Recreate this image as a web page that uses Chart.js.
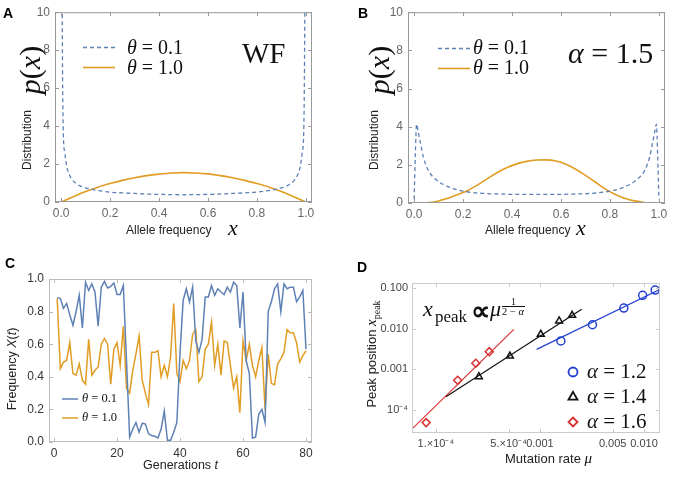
<!DOCTYPE html>
<html>
<head>
<meta charset="utf-8">
<script src="https://cdn.jsdelivr.net/npm/chart.js@4.4.1/dist/chart.umd.min.js"></script>
<style>
  body { margin: 0; background: #fff; width: 680px; height: 479px; position: relative; overflow: hidden;
         font-family: "Liberation Sans", Arial, sans-serif; }
  canvas { position: absolute; }
  .t { position: absolute; white-space: nowrap; line-height: 1; color: #222; }
  .m { font-family: "Liberation Serif", "Times New Roman", serif; color: #111; }
  .i { font-style: italic; }
  .rot { transform: translate(-50%, -50%) rotate(-90deg); }
  .lab { font-weight: bold; font-size: 14px; color: #000; }
</style>
</head>
<body>
<canvas id="cA" width="340" height="240" style="left:0;top:0"></canvas>
<canvas id="cB" width="340" height="240" style="left:340px;top:0"></canvas>
<canvas id="cC" width="340" height="239" style="left:0;top:240px"></canvas>
<canvas id="cD" width="340" height="239" style="left:340px;top:240px"></canvas>

<!-- panel A text -->
<div class="t lab" style="left:3px;top:6px">A</div>
<div class="t m" style="left:127px;top:37px;font-size:20px"><span class="i">θ</span> = 0.1</div>
<div class="t m" style="left:127px;top:57px;font-size:20px"><span class="i">θ</span> = 1.0</div>
<div class="t m" style="left:242px;top:39px;font-size:29px">WF</div>
<div class="t rot" style="left:27px;top:140px;font-size:12px">Distribution</div>
<div class="t m rot" style="left:30px;top:70px;font-size:30px"><span class="i">p</span>(<span class="i">x</span>)</div>
<div class="t" style="left:126px;top:224px;font-size:12px">Allele frequency</div>
<div class="t m i" style="left:228px;top:217px;font-size:22px">x</div>

<!-- panel B text -->
<div class="t lab" style="left:358px;top:6px">B</div>
<div class="t m" style="left:473px;top:37px;font-size:20px"><span class="i">θ</span> = 0.1</div>
<div class="t m" style="left:473px;top:57px;font-size:20px"><span class="i">θ</span> = 1.0</div>
<div class="t m" style="left:568px;top:38px;font-size:30px"><span class="i">α</span> = 1.5</div>
<div class="t rot" style="left:374px;top:140px;font-size:12px">Distribution</div>
<div class="t m rot" style="left:379px;top:70px;font-size:30px"><span class="i">p</span>(<span class="i">x</span>)</div>
<div class="t" style="left:485px;top:224px;font-size:12px">Allele frequency</div>
<div class="t m i" style="left:576px;top:217px;font-size:22px">x</div>

<!-- panel C text -->
<div class="t lab" style="left:5px;top:256px">C</div>
<div class="t rot" style="left:12px;top:369px;font-size:12.5px">Frequency <span class="i">X</span>(<span class="i">t</span>)</div>
<div class="t" style="left:143px;top:459px;font-size:12.5px">Generations <span class="i">t</span></div>
<div class="t m" style="left:82px;top:392px;font-size:12.5px"><span class="i">θ</span> = 0.1</div>
<div class="t m" style="left:82px;top:411px;font-size:12.5px"><span class="i">θ</span> = 1.0</div>

<!-- panel D text -->
<div class="t lab" style="left:357px;top:260px">D</div>
<div class="t rot" style="left:373px;top:354px;font-size:13px">Peak position <span class="m i" style="font-size:15px">x</span><sub class="m" style="font-size:10px">peak</sub></div>
<div class="t" style="left:505px;top:451px;font-size:13px">Mutation rate <span class="m i" style="font-size:15px">μ</span></div>
<div class="t m i" style="left:423px;top:298px;font-size:22px">x</div>
<div class="t m" style="left:435px;top:308px;font-size:17px">peak</div>
<div class="t m" style="left:471px;top:298px;font-size:27px;font-weight:bold">∝</div>
<div class="t m i" style="left:490px;top:298px;font-size:22px">μ</div>
<div class="t m" style="left:511px;top:297px;font-size:10px">1</div>
<div class="t" style="left:502px;top:306px;width:23px;height:1px;background:#111"></div>
<div class="t m" style="left:502px;top:307px;font-size:10.5px">2 − <span class="i">α</span></div>
<div class="t m" style="left:587px;top:361px;font-size:21px"><span class="i">α</span> = 1.2</div>
<div class="t m" style="left:587px;top:386px;font-size:21px"><span class="i">α</span> = 1.4</div>
<div class="t m" style="left:587px;top:411px;font-size:21px"><span class="i">α</span> = 1.6</div>

<script>
// ---- data ----
// A: Wright-Fisher stationary distributions
const wfLowX = [0.004, 0.006, 0.009, 0.015, 0.023, 0.033, 0.044, 0.06, 0.078, 0.1, 0.13, 0.16, 0.2, 0.25, 0.3, 0.35, 0.4, 0.45, 0.5,
  0.55, 0.6, 0.65, 0.7, 0.75, 0.8, 0.84, 0.87, 0.9, 0.922, 0.94, 0.956, 0.967, 0.977, 0.985, 0.991, 0.994, 0.996];
const wfLowY = [11, 6.5, 3.6, 2.6, 1.87, 1.45, 1.19, 0.98, 0.85, 0.74, 0.65, 0.59, 0.52, 0.48, 0.45, 0.42, 0.4, 0.39, 0.38,
  0.39, 0.4, 0.42, 0.45, 0.48, 0.52, 0.59, 0.65, 0.74, 0.85, 0.98, 1.19, 1.45, 1.87, 2.6, 3.6, 6.5, 11];
const wfHighX = [0, 0.05, 0.1, 0.15, 0.2, 0.25, 0.3, 0.35, 0.4, 0.45, 0.5, 0.55, 0.6, 0.65, 0.7, 0.75, 0.8, 0.85, 0.9, 0.95, 1];
const wfHighY = [0, 0.28, 0.55, 0.78, 0.97, 1.14, 1.28, 1.39, 1.47, 1.53, 1.55, 1.53, 1.48, 1.39, 1.28, 1.14, 0.97, 0.78, 0.55, 0.28, 0];

// B: alpha = 1.5
const bLowX = [0, 0.005, 0.01, 0.016, 0.024, 0.038, 0.058, 0.093, 0.147, 0.215, 0.283, 0.35, 0.42, 0.5,
  0.58, 0.65, 0.717, 0.785, 0.853, 0.907, 0.942, 0.962, 0.976, 0.984, 0.99, 0.995, 1];
const bLowY = [0.2, 2.5, 4.13, 3.8, 3.26, 2.4, 1.71, 1.19, 0.81, 0.59, 0.5, 0.47, 0.45, 0.45,
  0.45, 0.47, 0.5, 0.59, 0.81, 1.19, 1.71, 2.4, 3.26, 3.8, 4.13, 2.5, 0.2];
const bHighX = [0, 0.05, 0.08, 0.1, 0.12, 0.15, 0.18, 0.22, 0.26, 0.3, 0.34, 0.38, 0.42, 0.46, 0.5, 0.54, 0.58,
  0.62, 0.66, 0.7, 0.74, 0.78, 0.82, 0.86, 0.9, 0.94, 0.98, 1];
const bHighY = [0, 0.01, 0.05, 0.1, 0.18, 0.3, 0.45, 0.66, 0.95, 1.28, 1.6, 1.86, 2.05, 2.18, 2.25, 2.26, 2.2,
  2.03, 1.77, 1.45, 1.1, 0.74, 0.46, 0.25, 0.11, 0.03, 0, 0];

// C: trajectories over generations 1..80
const trajLow = [0.885, 0.88, 0.82, 0.85, 0.78, 0.716, 0.8, 0.9, 0.7, 0.98, 0.93, 0.97, 0.92, 0.71, 0.95, 0.985, 0.945, 0.955, 0.975, 0.905,
  0.905, 0.96, 0.5, 0.03, 0.08, 0.12, 0.06, 0.115, 0.11, 0.05, 0.04, 0.035, 0.025, 0.08, 0.19, 0.01, 0.01, 0.06, 0.12, 0.55,
  0.87, 0.94, 0.86, 0.95, 0.62, 0.55, 0.63, 0.89, 0.89, 0.96, 0.9, 0.94, 0.92, 0.905, 0.95, 0.92, 0.98, 0.96, 0.7, 0.92,
  0.5, 0.42, 0.025, 0.03, 0.17, 0.2, 0.12, 0.8, 0.86, 0.94, 0.97, 0.8, 0.97, 0.94, 0.95, 0.95, 0.86, 0.89, 0.93, 0.57];
const trajHigh = [0.88, 0.45, 0.49, 0.5, 0.61, 0.42, 0.41, 0.48, 0.38, 0.355, 0.63, 0.41, 0.44, 0.46, 0.6, 0.635, 0.6, 0.355, 0.57, 0.61,
  0.47, 0.71, 0.33, 0.3, 0.44, 0.54, 0.65, 0.38, 0.3, 0.23, 0.55, 0.55, 0.56, 0.4, 0.47, 0.4, 0.52, 0.85, 0.42, 0.37,
  0.5, 0.45, 0.5, 0.66, 0.69, 0.37, 0.4, 0.57, 0.6, 0.735, 0.47, 0.6, 0.41, 0.62, 0.61, 0.47, 0.33, 0.4, 0.18, 0.62,
  0.5, 0.6, 0.47, 0.4, 0.5, 0.58, 0.2, 0.54, 0.36, 0.35, 0.48, 0.51, 0.55, 0.69, 0.67, 0.67, 0.61, 0.49, 0.53, 0.56];

// D: peak position vs mutation rate
const muA12 = [0.00159, 0.0032, 0.0064, 0.0097, 0.0128];
const peakA12 = [0.00498, 0.0125, 0.0322, 0.066, 0.089];
const muA14 = [0.000259, 0.000515, 0.00102, 0.00153, 0.00204];
const peakA14 = [0.00066, 0.00213, 0.0073, 0.0155, 0.0213];
const muA16 = [0.0000807, 0.000162, 0.000242, 0.000326];
const peakA16 = [0.000049, 0.000537, 0.00141, 0.00272];
const fitA12 = { mu: [0.00093, 0.0143], peak: [0.0031, 0.093] };
const fitA14 = { mu: [0.000125, 0.00252], peak: [0.000212, 0.0299] };
const fitA16 = { mu: [0.0000575, 0.000562], peak: [0.000032, 0.0096] };

// ticks
const freqTicks = [0, 0.2, 0.4, 0.6, 0.8, 1];
const freqLabels = ["0.0", "0.2", "0.4", "0.6", "0.8", "1.0"];
const densTicks = [0, 2, 4, 6, 8, 10];
const densLabels = ["0", "2", "4", "6", "8", "10"];
const genTicks = [0, 20, 40, 60, 80];
const genLabels = ["0", "20", "40", "60", "80"];
const muTicks = [0.0001, 0.0005, 0.001, 0.005, 0.01];
const muLabels = ["1.×10⁻⁴", "5.×10⁻⁴", "0.001", "0.005", "0.010"];
const peakTicks = [0.0001, 0.001, 0.01, 0.1];
const peakLabels = ["10⁻⁴", "0.001", "0.010", "0.100"];

const BLUE = "#5E81B5";
const ORANGE = "#E19C24";
const SANS = '"Liberation Sans", Arial, sans-serif';

const pts = (xs, ys) => xs.map((x, i) => ({ x: x, y: ys[i] }));

function drawMarker(ctx, style, x, y, r) {
  ctx.beginPath();
  if (style === "circle") {
    ctx.arc(x, y, r, 0, Math.PI * 2);
  } else if (style === "triangle") {
    ctx.moveTo(x, y - r * 1.15);
    ctx.lineTo(x + r, y + r * 0.6);
    ctx.lineTo(x - r, y + r * 0.6);
    ctx.closePath();
  } else {
    ctx.moveTo(x, y - r);
    ctx.lineTo(x + r, y);
    ctx.lineTo(x, y + r);
    ctx.lineTo(x - r, y);
    ctx.closePath();
  }
  ctx.stroke();
}

// frame with inward ticks + small in-plot legend
const framePlugin = {
  id: "frame",
  afterDatasetsDraw(chart, args, opts) {
    const { ctx, chartArea: a, scales } = chart;
    ctx.save();
    ctx.strokeStyle = opts.color;
    ctx.lineWidth = 1;
    ctx.strokeRect(a.left + 0.5, a.top + 0.5, a.right - a.left - 1, a.bottom - a.top - 1);
    ctx.beginPath();
    scales.x.ticks.forEach((t) => {
      const px = Math.round(scales.x.getPixelForValue(t.value)) + 0.5;
      ctx.moveTo(px, a.bottom); ctx.lineTo(px, a.bottom - 4);
      ctx.moveTo(px, a.top); ctx.lineTo(px, a.top + 4);
    });
    scales.y.ticks.forEach((t) => {
      const py = Math.round(scales.y.getPixelForValue(t.value)) + 0.5;
      ctx.moveTo(a.left, py); ctx.lineTo(a.left + 4, py);
      ctx.moveTo(a.right, py); ctx.lineTo(a.right - 4, py);
    });
    ctx.stroke();

    (opts.items || []).forEach((it) => {
      const ds = chart.data.datasets[it.ds];
      ctx.strokeStyle = ds.borderColor;
      ctx.lineWidth = ds.borderWidth || ds.pointBorderWidth;
      if (it.marker) {
        ctx.lineWidth = 1.8;
        drawMarker(ctx, ds.pointStyle, it.x, it.y, 4.5);
      } else {
        ctx.setLineDash(ds.borderDash || []);
        ctx.beginPath();
        ctx.moveTo(it.x1, it.y);
        ctx.lineTo(it.x2, it.y);
        ctx.stroke();
        ctx.setLineDash([]);
      }
    });
    ctx.restore();
  },
};

function axis(type, min, max, ticks, labels, color, size, pad) {
  return {
    type: type,
    min: min,
    max: max,
    grid: { display: false, drawTicks: false },
    border: { display: false },
    afterBuildTicks: (s) => { s.ticks = ticks.map((v) => ({ value: v })); },
    ticks: {
      autoSkip: false,
      maxRotation: 0,
      padding: pad,
      color: color,
      font: { family: SANS, size: size },
      callback: (v, i) => labels[i],
    },
  };
}

// box = chart area inside the canvas
function makeChart(id, box, datasets, xAxis, yAxis, frame) {
  const canvas = document.getElementById(id);
  xAxis.afterFit = (s) => { s.height = canvas.height - box.bottom; };
  yAxis.afterFit = (s) => { s.width = box.left; };
  return new Chart(canvas, {
    type: "scatter",
    data: { datasets: datasets },
    options: {
      responsive: false,
      animation: false,
      layout: { padding: { left: 0, top: box.top, right: canvas.width - box.right, bottom: 0 } },
      scales: { x: xAxis, y: yAxis },
      plugins: { legend: { display: false }, tooltip: { enabled: false }, frame: frame },
    },
    plugins: [framePlugin],
  });
}

function curve(data, color, dash, width) {
  return {
    data: data,
    showLine: true,
    borderColor: color,
    borderWidth: width,
    borderDash: dash,
    pointRadius: 0,
    cubicInterpolationMode: "monotone",
  };
}

// A
makeChart("cA", { left: 55, right: 312, top: 10, bottom: 202 },
  [curve(pts(wfLowX, wfLowY), BLUE, [4, 3], 1.3), curve(pts(wfHighX, wfHighY), ORANGE, [], 1.6)],
  axis("linear", -0.025, 1.025, freqTicks, freqLabels, "#666", 12, 4),
  axis("linear", 0, 10, densTicks, densLabels, "#666", 12, 5),
  { color: "#999", items: [{ ds: 0, x1: 83, x2: 115, y: 47.5 }, { ds: 1, x1: 83, x2: 115, y: 67.5 }] });

// B
makeChart("cB", { left: 68, right: 325, top: 10, bottom: 203 },
  [curve(pts(bLowX, bLowY), BLUE, [4, 3], 1.3), curve(pts(bHighX, bHighY), ORANGE, [], 1.6)],
  axis("linear", -0.025, 1.025, freqTicks, freqLabels, "#666", 12, 4),
  axis("linear", 0, 10, densTicks, densLabels, "#666", 12, 5),
  { color: "#999", items: [{ ds: 0, x1: 98, x2: 130, y: 48.5 }, { ds: 1, x1: 98, x2: 130, y: 68.5 }] });

// C
const gens = trajLow.map((v, i) => i + 1);
const traj = (vals, color) => ({
  data: pts(gens, vals), showLine: true, borderColor: color, borderWidth: 1.5, pointRadius: 0, tension: 0,
});
makeChart("cC", { left: 49, right: 312, top: 39, bottom: 202 },
  [traj(trajLow, BLUE), traj(trajHigh, ORANGE)],
  axis("linear", -1.6, 81.9, genTicks, genLabels, "#333", 12, 4),
  axis("linear", 0, 1, freqTicks, freqLabels, "#333", 12, 5),
  { color: "#bbb", items: [{ ds: 0, x1: 62, x2: 78, y: 159 }, { ds: 1, x1: 62, x2: 78, y: 178 }] });

// D
const fit = (f, color) => ({
  data: pts(f.mu, f.peak), showLine: true, borderColor: color, borderWidth: 1.2, pointRadius: 0,
});
const marks = (xs, ys, color, style) => ({
  data: pts(xs, ys), borderColor: color, pointStyle: style, pointRadius: 4,
  pointBorderWidth: 1.5, pointBorderColor: color, pointBackgroundColor: "rgba(0,0,0,0)",
});
makeChart("cD", { left: 72, right: 320, top: 43, bottom: 193 },
  [fit(fitA12, "#2340D0"), fit(fitA14, "#111"), fit(fitA16, "#D83030"),
   marks(muA12, peakA12, "#2340D0", "circle"), marks(muA14, peakA14, "#111", "triangle"),
   marks(muA16, peakA16, "#D83030", "rectRot")],
  axis("logarithmic", 0.000059, 0.01425, muTicks, muLabels, "#444", 11, 4),
  axis("logarithmic", 0.0000272, 0.133, peakTicks, peakLabels, "#444", 11, 4),
  { color: "#ccc", items: [{ ds: 3, marker: true, x: 233, y: 132 }, { ds: 4, marker: true, x: 233, y: 157 },
                           { ds: 5, marker: true, x: 233, y: 182 }] });
</script>
</body>
</html>
